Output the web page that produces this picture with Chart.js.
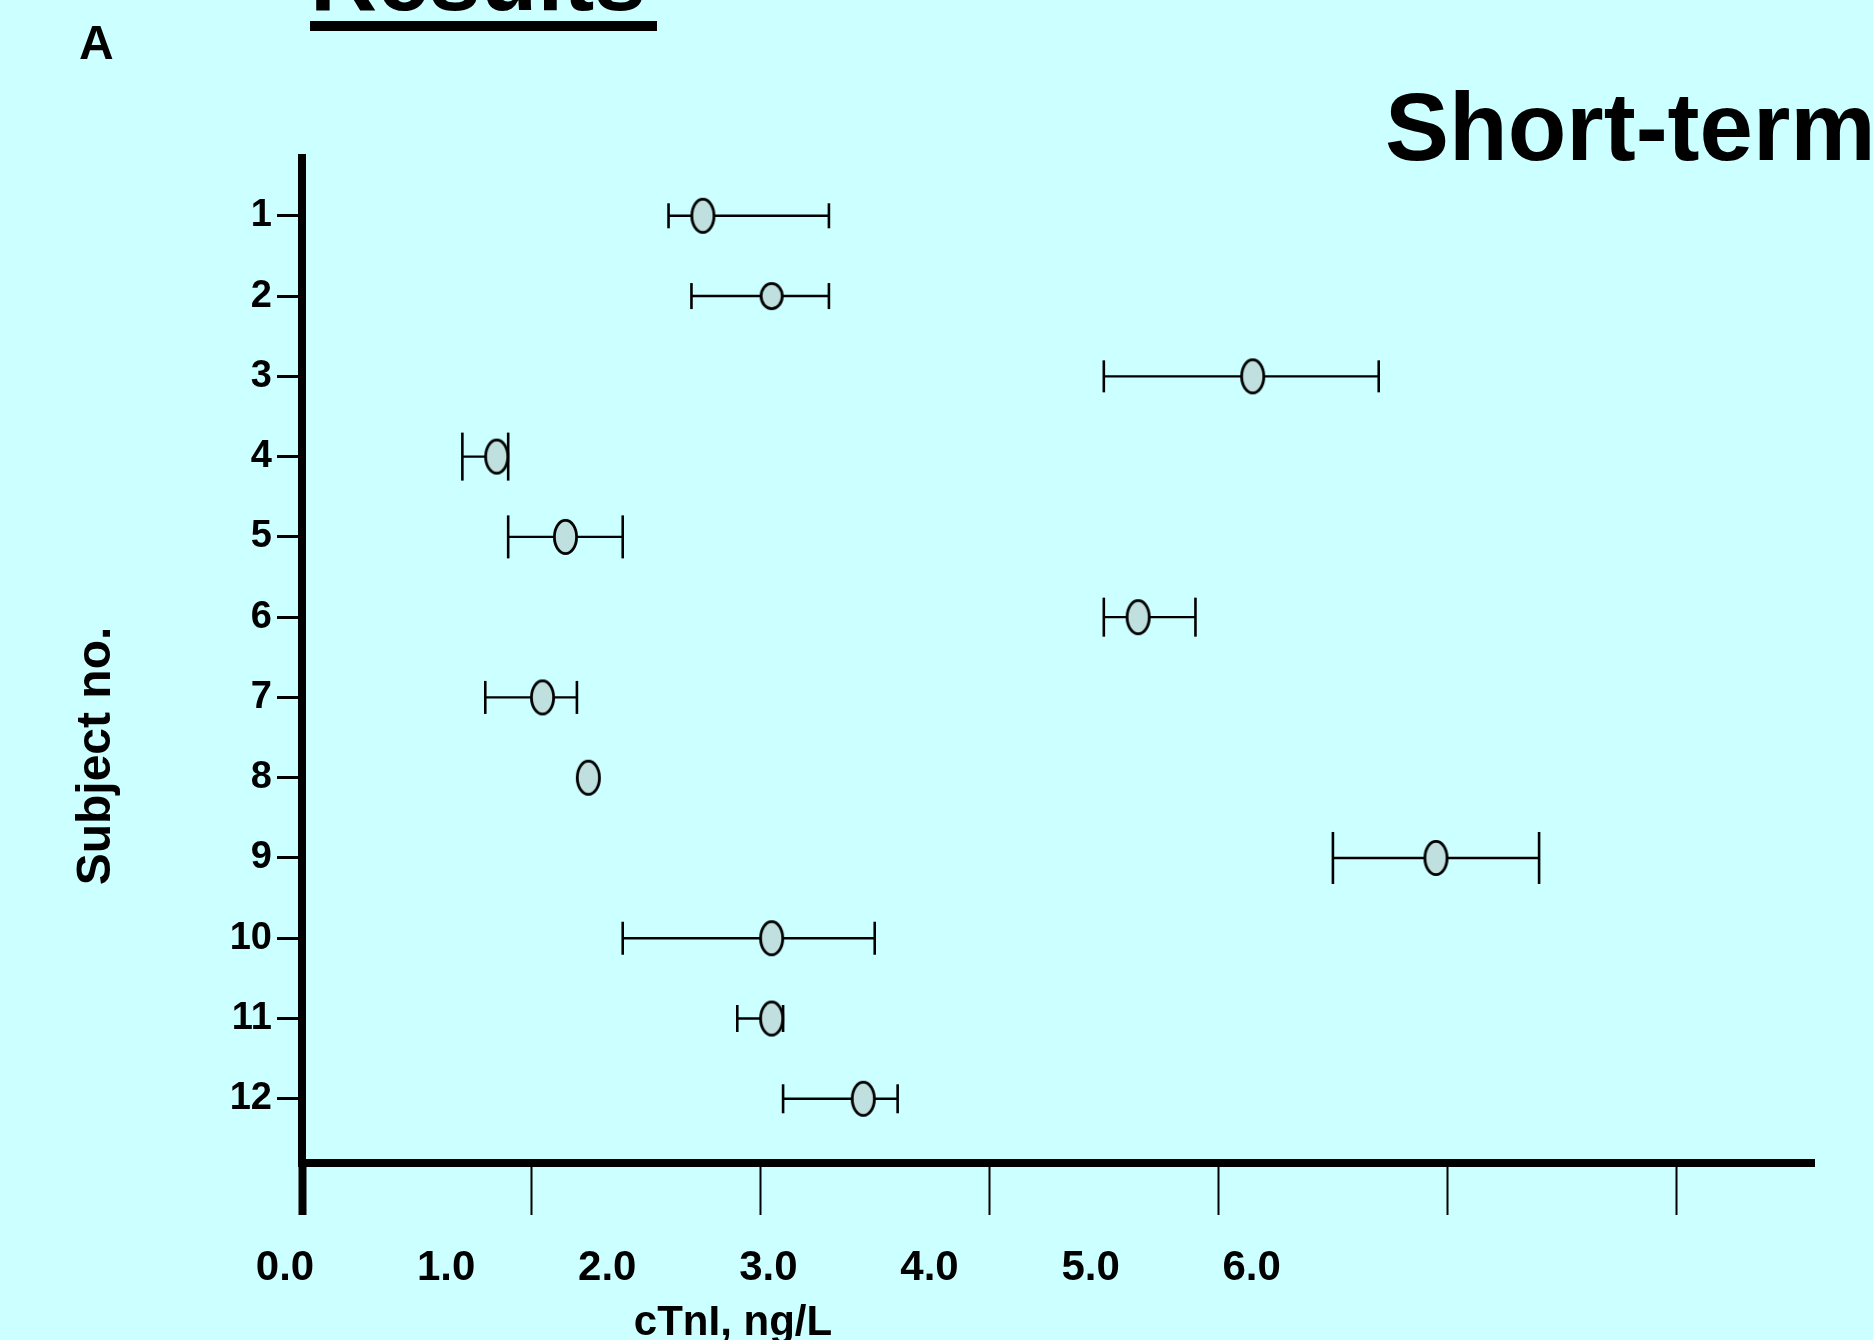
<!DOCTYPE html>
<html>
<head>
<meta charset="utf-8">
<script src="https://cdn.jsdelivr.net/npm/chart.js@4/dist/chart.umd.min.js"></script>
<style>
html,body{margin:0;padding:0;background:#CCFFFF;width:1873px;height:1340px;overflow:hidden;font-family:"Liberation Sans",Arial,sans-serif;}
#wrap{position:relative;width:1873px;height:1340px;overflow:hidden;}
#c{position:absolute;left:0;top:0;}
.t{position:absolute;font-weight:bold;color:#000;line-height:1;white-space:nowrap;}
</style>
</head>
<body>
<div id="wrap">
<canvas id="c" width="1873" height="1340"></canvas>
<div class="t" style="left:310px;top:-68px;font-size:93px;">Results</div>
<div style="position:absolute;left:310px;top:21px;width:347px;height:10px;background:#000;"></div>
<div class="t" style="left:79px;top:19px;font-size:48px;">A</div>
<div class="t" style="left:1385px;top:79px;font-size:96px;">Short-term</div>
<div class="t" style="left:-56px;top:732px;width:300px;height:48px;line-height:48px;text-align:center;font-size:48px;transform:rotate(-90deg);">Subject no.</div>
<div class="t" style="left:583px;top:1300px;width:300px;text-align:center;font-size:42px;">cTnI, ng/L</div>
</div>
<script>
// ---- data ----
const subjects   = [1, 2, 3, 4, 5, 6, 7, 8, 9, 10, 11, 12];
const meanValues = [1.75, 2.05, 4.15, 0.85, 1.15, 3.65, 1.05, 1.25, 4.95, 2.05, 2.05, 2.45];
const lowValues  = [1.60, 1.70, 3.50, 0.70, 0.90, 3.50, 0.80, null, 4.50, 1.40, 1.90, 2.10];
const highValues = [2.30, 2.30, 4.70, 0.90, 1.40, 3.90, 1.20, null, 5.40, 2.50, 2.10, 2.60];
const xTickLabels = ['0.0', '1.0', '2.0', '3.0', '4.0', '5.0', '6.0'];

// ---- styles (kept apart from data) ----
const capHeights    = [25, 26, 32, 48, 43, 39, 33, 0, 52, 33, 27, 29];
const markerHeights = [36, 28, 36, 36, 36, 36, 36, 36, 36, 36, 36, 36];
const markerWidths  = [25, 24, 25, 25, 25, 25, 25, 25, 25, 25, 25, 25];
const FONT = '"Liberation Sans", Arial, sans-serif';
Chart.defaults.font.family = FONT;
Chart.defaults.color = '#000';

function makeMarker(w, h) {
  const c = document.createElement('canvas');
  c.width = w + 6; c.height = h + 6;
  const g = c.getContext('2d');
  const lw = 2.8;
  g.beginPath();
  g.ellipse(c.width / 2, c.height / 2, (w - lw) / 2, (h - lw) / 2, 0, 0, Math.PI * 2);
  g.fillStyle = '#C0E0E0';
  g.fill();
  g.lineWidth = lw;
  g.strokeStyle = '#000';
  g.stroke();
  return c;
}
const markers = subjects.map((s, i) => makeMarker(markerWidths[i], markerHeights[i]));

// build datasets from arrays
const meanData = subjects.map((s, i) => ({ x: meanValues[i], y: s }));
const barData = [];
const capData = [];
subjects.forEach((s, i) => {
  if (lowValues[i] == null || highValues[i] == null) return;
  barData.push({ x: lowValues[i], y: s }, { x: highValues[i], y: s }, { x: highValues[i], y: null });
  capData.push({ x: lowValues[i], y: s }, { x: highValues[i], y: s });
});

new Chart(document.getElementById('c'), {
  data: {
    datasets: [
      {
        type: 'scatter',
        label: 'Mean',
        data: meanData,
        pointStyle: ctx => markers[ctx.dataIndex],
        pointRadius: 12,
        order: 0
      },
      {
        type: 'scatter',
        label: 'Caps',
        data: capData,
        pointStyle: 'line',
        rotation: 90,
        pointRadius: ctx => capHeights[ctx.raw.y - 1] / 2,
        borderColor: '#000',
        borderWidth: 2.6,
        order: 1
      },
      {
        type: 'line',
        label: 'Range',
        data: barData,
        showLine: true,
        spanGaps: false,
        borderColor: '#000',
        borderWidth: 2.4,
        pointRadius: 0,
        fill: false,
        order: 2
      }
    ]
  },
  options: {
    responsive: false,
    animation: false,
    events: [],
    layout: { padding: { top: 158, right: 59, left: 0, bottom: 0 } },
    plugins: { legend: { display: false }, tooltip: { enabled: false }, title: { display: false } },
    scales: {
      x: {
        type: 'linear', position: 'bottom', weight: 0,
        min: 0, max: 6.6,
        ticks: { display: false, stepSize: 1, includeBounds: false },
        grid: {
          drawOnChartArea: false, drawTicks: true, tickLength: 52,
          tickWidth: ctx => (ctx.tick && ctx.tick.value === 0 ? 8 : 2),
          tickColor: '#000'
        },
        border: { display: true, color: '#000', width: 8 },
        afterFit: s => { s.height = 52; }
      },
      x2: {
        type: 'linear', position: 'bottom', weight: 1,
        min: 0.1055, max: 9.49,
        afterBuildTicks: s => { s.ticks = xTickLabels.map((_, i) => ({ value: i })); },
        ticks: {
          autoSkip: false, maxRotation: 0, minRotation: 0, padding: 28, color: '#000',
          font: { size: 42, weight: 'bold' },
          callback: v => xTickLabels[v] ?? ''
        },
        grid: { display: false, drawTicks: false },
        border: { display: false },
        afterFit: s => { s.height = 125; }
      },
      y: {
        type: 'linear', position: 'left', reverse: true,
        min: 0.28, max: 12.8,
        afterBuildTicks: s => { s.ticks = subjects.map(v => ({ value: v })); },
        ticks: {
          autoSkip: false, padding: 5, color: '#000',
          font: { size: 38, weight: 'bold' },
          callback: v => String(v)
        },
        grid: { drawOnChartArea: false, drawTicks: true, tickLength: 25, tickWidth: 3, tickColor: '#000' },
        border: { display: true, color: '#000', width: 8 },
        afterFit: s => { s.width = 302; }
      }
    }
  }
});
</script>
</body>
</html>
